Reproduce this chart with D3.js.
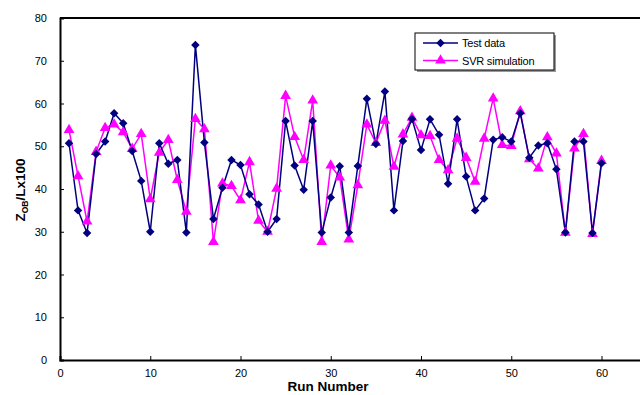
<!DOCTYPE html>
<html>
<head>
<meta charset="utf-8">
<script src="https://cdn.jsdelivr.net/npm/d3@7"></script>
<style>
  body { margin: 0; background: #fff; overflow: hidden; }
  text { font-family: "Liberation Sans", Arial, sans-serif; }
</style>
</head>
<body>
<div id="chart"></div>
<script>
// run numbers 1..60
const runs = [1,2,3,4,5,6,7,8,9,10,11,12,13,14,15,16,17,18,19,20,
  21,22,23,24,25,26,27,28,29,30,31,32,33,34,35,36,37,38,39,40,
  41,42,43,44,45,46,47,48,49,50,51,52,53,54,55,56,57,58,59,60];

const testData = [50.7,35.0,29.7,48.2,51.1,57.7,55.4,48.9,41.9,30.0,
  50.7,45.9,46.8,29.8,73.7,50.9,33.0,40.3,46.8,45.6,
  38.8,36.4,30.0,33.0,55.9,45.5,39.8,55.9,29.8,38.0,
  45.3,29.8,45.4,61.1,50.5,62.8,35.0,51.2,56.4,49.1,
  56.3,52.7,41.2,56.3,42.9,35.0,37.8,51.5,52.1,51.1,
  57.7,47.3,50.2,50.7,44.6,29.8,51.1,51.1,29.7,46.0];

const svrSim = [53.8,43.0,32.4,48.7,54.3,55.1,53.3,49.4,52.9,37.6,
  48.5,51.5,42.1,34.7,56.4,54.0,27.6,41.3,40.7,37.4,
  46.3,32.6,30.0,40.1,61.8,52.2,46.8,60.7,27.6,45.5,
  42.7,28.2,40.9,55.1,50.8,56.0,45.2,52.8,56.7,52.6,
  52.4,46.8,44.4,51.8,47.3,41.7,51.8,61.2,50.3,50.1,
  58.2,47.0,44.8,52.1,48.3,29.8,49.5,52.9,29.5,46.6];

const yTicks = [0,10,20,30,40,50,60,70,80];
const xTicks = [0,10,20,30,40,50,60];

const width = 640, height = 395;
const mLeft = 60, mTop = 18, mBottom = 360;

const svg = d3.select("#chart").append("svg")
  .attr("width", width)
  .attr("height", height);

const x = d3.scaleLinear().domain([0, 70]).range([mLeft, mLeft + 70 * 9.025]);
const y = d3.scaleLinear().domain([0, 80]).range([mBottom, mTop]);

// top frame line (right side runs off the picture)
svg.append("line")
  .attr("x1", mLeft).attr("x2", width + 5)
  .attr("y1", mTop).attr("y2", mTop)
  .attr("stroke", "#000").attr("stroke-width", 2);

const yAxis = svg.append("g")
  .attr("transform", `translate(${mLeft},0)`)
  .call(d3.axisLeft(y).tickValues(yTicks).tickSize(-4).tickPadding(13));
yAxis.select(".domain").attr("stroke-width", 2);
yAxis.selectAll("text").attr("font-size", 11).attr("fill", "#000");

const xAxis = svg.append("g")
  .attr("transform", `translate(0,${mBottom})`)
  .call(d3.axisBottom(x).tickValues(xTicks).tickSize(-4).tickPadding(9));
xAxis.select(".domain").attr("stroke-width", 2);
xAxis.selectAll("text").attr("font-size", 11).attr("fill", "#000");

svg.append("text")
  .attr("x", 328).attr("y", 391)
  .attr("text-anchor", "middle")
  .attr("font-size", 13.5).attr("font-weight", "bold")
  .text("Run Number");

const yt = svg.append("text")
  .attr("transform", "translate(25,190) rotate(-90)")
  .attr("text-anchor", "middle")
  .attr("font-size", 13.5).attr("font-weight", "bold");
yt.append("tspan").text("Z");
yt.append("tspan").attr("font-size", 8.5).attr("dy", 3).text("OB");
yt.append("tspan").attr("dy", -3).text("/Lx100");

const blue = "#000080", pink = "#ff00ff";

const line = d3.line().x((d, i) => x(runs[i])).y(d => y(d));

svg.append("path").datum(svrSim)
  .attr("d", line).attr("fill", "none")
  .attr("stroke", pink).attr("stroke-width", 1.5);

svg.append("path").datum(testData)
  .attr("d", line).attr("fill", "none")
  .attr("stroke", blue).attr("stroke-width", 1.5);

const diamond = d3.symbol().type(d3.symbolDiamond2).size(46);
const triangle = d3.symbol().type(d3.symbolTriangle).size(50);

svg.selectAll(".tri").data(svrSim).enter().append("path")
  .attr("class", "tri")
  .attr("d", triangle)
  .attr("transform", (d, i) => `translate(${x(runs[i])},${y(d)})`)
  .attr("fill", pink);

svg.selectAll(".dia").data(testData).enter().append("path")
  .attr("class", "dia")
  .attr("d", diamond)
  .attr("transform", (d, i) => `translate(${x(runs[i])},${y(d)})`)
  .attr("fill", blue);

// legend
const lg = svg.append("g").attr("transform", "translate(415,33)");
lg.append("rect").attr("x", 2).attr("y", 2).attr("width", 139).attr("height", 37).attr("fill", "#999");
lg.append("rect").attr("width", 139).attr("height", 37).attr("fill", "#fff").attr("stroke", "#000");
const items = [["Test data", blue, diamond], ["SVR simulation", pink, triangle]];
items.forEach((it, i) => {
  const cy = 10 + i * 17.5;
  lg.append("line").attr("x1", 8).attr("x2", 43).attr("y1", cy).attr("y2", cy)
    .attr("stroke", it[1]).attr("stroke-width", 1.5);
  lg.append("path").attr("d", it[2]).attr("transform", `translate(25.5,${cy})`).attr("fill", it[1]);
  lg.append("text").attr("x", 47).attr("y", cy + 4).attr("font-size", 11)
    .attr("letter-spacing", -0.2).text(it[0]);
});
</script>
</body>
</html>
